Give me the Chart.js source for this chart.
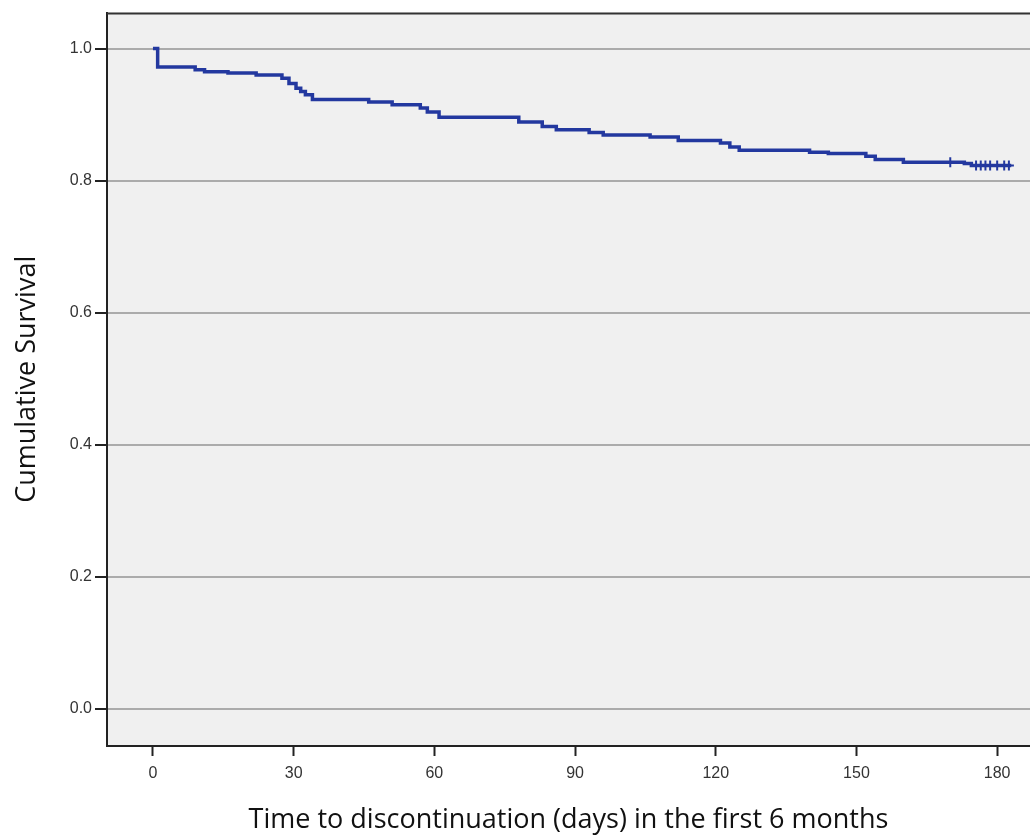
<!DOCTYPE html>
<html>
<head>
<meta charset="utf-8">
<script src="https://cdn.jsdelivr.net/npm/chart.js@4/dist/chart.umd.min.js"></script>
<style>
html,body{margin:0;padding:0;background:#fff;}
#wrap{width:1030px;height:835px;}
</style>
</head>
<body>
<div id="wrap"><canvas id="c" width="1030" height="835"></canvas></div>
<script>
// Kaplan-Meier step points: time (days) and cumulative survival after each event
const eventDays = [0, 1, 9, 11, 16, 22, 27.5, 29, 30.5, 31.5, 32.5, 34, 46, 51, 57, 58.5, 61, 78, 83, 86, 93, 96, 106, 112, 121, 123, 125, 140, 144, 152, 154, 160, 173, 174.5, 183];
const survival  = [1.0, 0.972, 0.968, 0.965, 0.963, 0.960, 0.955, 0.947, 0.940, 0.935, 0.930, 0.923, 0.919, 0.915, 0.910, 0.904, 0.896, 0.889, 0.882, 0.877, 0.873, 0.869, 0.866, 0.861, 0.857, 0.851, 0.846, 0.843, 0.841, 0.837, 0.832, 0.828, 0.826, 0.823, 0.823];
// Censored observations
const censorDays = [170, 175.5, 176.5, 177.5, 178.5, 180, 181.5, 182.5];
const censorSurv = [0.828, 0.823, 0.823, 0.823, 0.823, 0.823, 0.823, 0.823];
// Axis ticks
const xTicks = [0, 30, 60, 90, 120, 150, 180];
const yTicks = [0.0, 0.2, 0.4, 0.6, 0.8, 1.0];

const lineColor = '#23389f';

const bgPlugin = {
  id: 'bg',
  beforeDraw(chart) {
    const {ctx, chartArea: a} = chart;
    ctx.save();
    ctx.fillStyle = '#f0f0f0';
    ctx.fillRect(a.left, a.top, a.right - a.left, a.bottom - a.top);
    ctx.restore();
  },
  afterDraw(chart) {
    const {ctx, chartArea: a} = chart;
    ctx.save();
    ctx.strokeStyle = '#333';
    ctx.lineWidth = 2;
    ctx.beginPath();
    ctx.moveTo(a.left, a.top + 1);
    ctx.lineTo(a.right, a.top + 1);
    ctx.stroke();
    ctx.restore();
  }
};

new Chart(document.getElementById('c'), {
  type: 'scatter',
  data: {
    datasets: [
      {
        data: eventDays.map((d, i) => ({x: d, y: survival[i]})),
        showLine: true,
        stepped: 'before',
        borderColor: lineColor,
        borderWidth: 3.5,
        pointRadius: 0,
        fill: false
      },
      {
        data: censorDays.map((d, i) => ({x: d, y: censorSurv[i]})),
        showLine: false,
        pointStyle: 'cross',
        pointRadius: 5,
        borderColor: lineColor,
        borderWidth: 2,
        backgroundColor: lineColor
      }
    ]
  },
  plugins: [bgPlugin],
  options: {
    responsive: false,
    animation: false,
    layout: {autoPadding: false, padding: {top: 12, right: 0, left: 0, bottom: 0}},
    plugins: {legend: {display: false}, tooltip: {enabled: false}},
    scales: {
      x: {
        type: 'linear',
        min: -9.8,
        max: 187,
        afterBuildTicks: s => { s.ticks = xTicks.map(v => ({value: v})); },
        afterFit: s => { s.height = 89; },
        ticks: {
          color: '#333',
          font: {family: 'Liberation Sans', size: 16},
          padding: 8,
          maxRotation: 0,
          callback: v => String(v)
        },
        grid: {
          drawOnChartArea: false,
          drawTicks: true,
          tickLength: 10,
          tickColor: '#222',
          tickWidth: 2
        },
        border: {display: true, color: '#222', width: 2},
        title: {
          display: true,
          text: 'Time to discontinuation (days) in the first 6 months',
          color: '#111',
          font: {family: 'Open Sans', size: 27},
          padding: {top: 10, bottom: -2}
        }
      },
      y: {
        type: 'linear',
        min: -0.056,
        max: 1.0545,
        afterBuildTicks: s => { s.ticks = yTicks.map(v => ({value: v})); },
        afterFit: s => { s.width = 107; },
        ticks: {
          color: '#333',
          font: {family: 'Liberation Sans', size: 16},
          padding: 3,
          callback: v => Number(v).toFixed(1)
        },
        grid: {
          color: '#ababab',
          lineWidth: 2,
          drawTicks: true,
          tickLength: 12,
          tickColor: '#222',
          tickWidth: 2
        },
        border: {display: true, color: '#222', width: 2},
        title: {
          display: true,
          text: 'Cumulative Survival',
          color: '#111',
          font: {family: 'Open Sans', size: 27},
          padding: {top: 11, bottom: 10}
        }
      }
    }
  }
});
</script>
</body>
</html>
